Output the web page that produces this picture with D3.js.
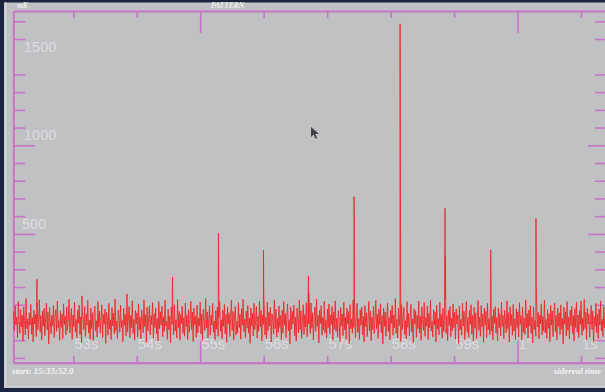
<!DOCTYPE html>
<html><head><meta charset="utf-8">
<script src="https://cdn.jsdelivr.net/npm/d3@7"></script>
<style>html,body{margin:0;padding:0;background:#1d2442;}svg{display:block;}</style>
</head><body>
<svg id="c" width="605" height="392"></svg>
<script>
// ---- data ----
const xTickSeconds = [53,54,55,56,57,58,59,60,61];
const xTickLabels = ["53s","54s","55s","56s","57s","58s","59s","1m","1s"];
const xMajorSeconds = [55,60];
const yLabelValues = [500,1000,1500];
const yMajorValues = [0,500,1000];
const pulseTimes    = [52.428,53.137,53.846,54.564,55.288,55.997,56.706,57.425,58.150,58.858,59.578,60.291,61.000];
const pulsePeaks    = [244,150,161,257,503,409,262,710,1685,644,409,588,120];
const pulseShoulder = [110,90,95,120,240,166,166,240,936,371,258,202,80];
const noiseStart = 52.06, noiseStep = 0.0123;
const noiseValues = [
62,-48,95,-12,30,-88,118,5,-60,74,-25,40,-105,88,12,-70,135,-35,20,-92,
55,-15,102,-66,28,-110,70,-8,45,-80,92,-40,15,128,-55,38,-98,64,-20,80,
-75,25,110,-42,58,-120,85,2,-64,40,-18,96,-85,30,72,-50,120,-30,10,-100,
66,-28,48,-90,105,-12,35,-70,88,-45,20,130,-60,5,78,-95,42,-22,115,-52,
18,-85,70,-5,98,-68,32,-112,60,25,-40,90,-78,48,-15,125,-58,12,-94,82,
-35,55,-102,38,92,-48,10,-82,118,-25,65,-60,22,100,-88,45,-10,75,-118,58,
28,-72,108,-38,15,-96,84,-20,52,-64,132,-45,8,-90,70,35,-55,98,-28,12,
-108,80,-15,46,-75,115,-52,25,90,-86,40,-30,122,-62,18,-100,68,-8,55,-82,
105,-40,30,-92,72,5,-58,128,-22,44,-110,86,-48,20,95,-70,38,-12,112,-88,
50,-28,80,-65,22,-104,118,-35,60,-15,90,-82,32,-50,125,-20,8,-95,74,-42,
35,-115,88,-10,55,-70,100,-48,15,-88,130,-30,62,-100,45,-5,92,-62,28,-78,
110,-25,40,-96,72,-55,18,120,-40,58,-108,82,-12,35,-85,98,-58,25,-20,115,
-65,48,-102,75,12,-45,135,-30,60,-88,22,95,-72,40,-15,108,-55,8,-98,68,
-38,85,-78,30,118,-50,15,-92,70,-22,102,-64,45,-112,88,-8,55,-80,28,125,
-45,62,-100,38,90,-70,5,-58,112,-28,48,-94,78,-15,130,-52,20,-86,64,-32,
96,-60,25,-118,82,-18,52,-76,108,-40,12,90,-88,35,-50,120,-25,68,-104,42,
-12,100,-70,28,-92,115,-45,60,-20,85,-110,48,10,-66,128,-35,75,-82,22,-55,
92,-28,40,-98,70,-60,118,-15,50,-84,32,105,-48,15,-120,88,-38,62,-10,98,
-75,30,-105,82,20,-58,125,-40,65,-90,12,100,-68,45,-25,112,-80,38,-8,78,
-62,110,-32,55,-98,18,86,-50,132,-22,40,-115,70,-5,95,-72,28,-44,120,-58,
15,-88,76,-30,104,-65,42,-12,90,-100,58,-38,122,-50,25,-82,68,5,-106,85,
-20,48,-74,115,-42,30,-94,80,-8,62,-118,100,-35,18,-60,128,-28,52,-86,40,
108,-55,22,-96,72,-15,88,-70,35,-110,96,-25,55,-80,12,118,-48,65,-102,30,
-40,92,-64,20,125,-36,48,-90,75,-12,105,-58,38,-120,82,-22,60,-78,15,110,
-50,28,-98,70,-5,96,-72,42,-30,135,-62,18,-88,80,-18,58,-108,100,-40,25,
85,-68,10,-92,118,-28,50,-75,32,102,-55,20,-115,78,-10,66,-84,40,-35,120,
-58,35,-100,88,15,-45,112,-78,28,-20,94,-96,52,-30,126,-48,8,-82,72,-15,
60,-110,98,-38,22,-70,115,-25,45,-88,80,-52,12,128,-62,38,-102,68,-18,90,
-80,25,-46,105,-30,58,-94,76,-8,42,-118,92,-42,18,-72,110,-20,62,-98,35,
118,-55,28,-84,70,-12,100,-66,40,-105,85,-32,55,-90,15,124,-45,30,-78,96,
-25,48,-112,80,-15,62,-86,108,-40,22,-70,130,-50,35,-98,75,-5,90,-60,28,
-104,82,-30,50,-76,115,-22,40,-92,68,10,-58,122,-35,55,-110,88,-18,45,-72,
102,-48,20,-96,78,-28,60,-82,112,-10,38,-100,85,-55,25,-68,128,-30,50,-88,
70,-20,95,-62,30,-115,88,-40,12,-78,120,-25,58,-92,42,-8,105,-70,35,-48,
125,-58,18,-90,72,-32,48,-108,96,-15,65,-80,28,110,-52,40,-98,82,-22,55,
-68,100,-38,22,-120,86,-10,60,-76,118,-45,30,-94,70,-18,92,-62,38,-105,78,
-28,115,-55,42,-88,66,-12,102,-72,25,-46,130,-35,58,-100,80,-8,48,-84,20,
95,-40,65,-110,32,-22,108,-60,45,-92,76,-15,122,-48,18,-80,90,-30,55,-70
];

// ---- layout ----
const W = 605, H = 392;
const L = 13.3, R = 607, T = 11, B = 362.7;
const svg = d3.select("#c");
const magenta = "#c874c8";

svg.append("rect").attr("x",0).attr("y",0).attr("width",W).attr("height",H).attr("fill","#1d2442");
svg.append("rect").attr("x",4).attr("y",2.5).attr("width",W-4).attr("height",385.5).attr("fill","#c0c1c3");
svg.append("rect").attr("x",4.5).attr("y",2.5).attr("width",2).attr("height",385.5).attr("fill","#d2d3d5");
svg.append("rect").attr("x",4).attr("y",386).attr("width",W-4).attr("height",1.2).attr("fill","#d0d1d3");

const x = d3.scaleLinear().domain([52.055, 61.41]).range([L, R]);
const y = d3.scaleLinear().domain([-227, 1758]).range([B, T]);

// axes
const yMinor = d3.range(-200, 1800, 100).filter(v => !yMajorValues.includes(v) && v !== 1500);
const xMinor = xTickSeconds.filter(s => !xMajorSeconds.includes(s));

function styleAxis(g, w) {
  g.select(".domain").attr("stroke", magenta).attr("stroke-width", w);
  g.selectAll(".tick line").attr("stroke", magenta).attr("stroke-width", 1.6);
  g.selectAll(".tick text").remove();
}
// left
svg.append("g").attr("transform",`translate(${L},0)`)
  .call(d3.axisRight(y).tickValues(yMinor).tickSize(12).tickSizeOuter(0).tickFormat(""))
  .call(g=>styleAxis(g,2));
svg.append("g").attr("transform",`translate(${L},0)`)
  .call(d3.axisRight(y).tickValues(yMajorValues).tickSize(22).tickSizeOuter(0).tickFormat(""))
  .call(g=>{g.select(".domain").remove(); styleAxis(g,0);});
// right
svg.append("g").attr("transform",`translate(${R},0)`)
  .call(d3.axisLeft(y).tickValues(yMinor).tickSize(12).tickSizeOuter(0).tickFormat(""))
  .call(g=>styleAxis(g,2));
svg.append("g").attr("transform",`translate(${R},0)`)
  .call(d3.axisLeft(y).tickValues(yMajorValues).tickSize(19).tickSizeOuter(0).tickFormat(""))
  .call(g=>{g.select(".domain").remove(); styleAxis(g,0);});
// top
svg.append("g").attr("transform",`translate(0,${T})`)
  .call(d3.axisBottom(x).tickValues(xMinor).tickSize(7).tickSizeOuter(0).tickFormat(""))
  .call(g=>styleAxis(g,2.2));
svg.append("g").attr("transform",`translate(0,${T})`)
  .call(d3.axisBottom(x).tickValues(xMajorSeconds).tickSize(22).tickSizeOuter(0).tickFormat(""))
  .call(g=>{g.select(".domain").remove(); styleAxis(g,0);});
// bottom
svg.append("g").attr("transform",`translate(0,${B})`)
  .call(d3.axisTop(x).tickValues(xMinor).tickSize(7).tickSizeOuter(0).tickFormat(""))
  .call(g=>styleAxis(g,2.2));
svg.append("g").attr("transform",`translate(0,${B})`)
  .call(d3.axisTop(x).tickValues(xMajorSeconds).tickSize(22).tickSizeOuter(0).tickFormat(""))
  .call(g=>{g.select(".domain").remove(); styleAxis(g,0);});

// tick labels
const lblColor = "#dcdddf";
svg.append("g").selectAll("text").data(yLabelValues).join("text")
  .attr("x", d => d === 500 ? 22 : 24).attr("y", d => y(d) - 5)
  .attr("font-family","Liberation Sans, sans-serif").attr("font-size",14.5)
  .attr("fill", lblColor).text(d => d);
svg.append("text").attr("x",23).attr("y",y(0)-4)
  .attr("font-family","Liberation Sans, sans-serif").attr("font-size",12)
  .attr("fill", lblColor).text("0");
const xl = svg.append("g").selectAll("text").data(xTickSeconds).join("text")
  .attr("x", d => x(d) + 1).attr("y", 348.5)
  .attr("font-family","Liberation Sans, sans-serif").attr("font-size",15)
  .attr("fill", lblColor);
xl.each(function(d,i){
  const t = d3.select(this), s = xTickLabels[i];
  if (s.endsWith("m")) {
    t.append("tspan").text(s.slice(0,-1));
    t.append("tspan").attr("font-size",8).attr("dy",-6).text("m");
  } else t.text(s);
});

// signal
const pts = noiseValues.map((v,i)=>({t: noiseStart + i*noiseStep, v}));
pulseTimes.forEach((t,i)=>{
  pts.push({t: t, v: pulsePeaks[i]});
  pts.push({t: t + 0.004, v: pulseShoulder[i]});
});
pts.sort((a,b)=>a.t-b.t);
const line = d3.line().x(d=>x(d.t)).y(d=>y(d.v));
svg.append("path").datum(pts).attr("d", line)
  .attr("fill","none").attr("stroke","#f02626").attr("stroke-width",1)
  .attr("stroke-opacity",0.88).attr("stroke-linejoin","miter");

// header / footer text
const serif = "Liberation Serif, DejaVu Serif, serif";
svg.append("text").attr("x",17).attr("y",8).attr("font-family",serif).attr("font-size",7.5)
  .attr("font-style","italic").attr("font-weight","bold").attr("fill","#eeeeee").text("mK");
svg.append("text").attr("x",211).attr("y",8).attr("font-family",serif).attr("font-size",7.5)
  .attr("font-style","italic").attr("font-weight","bold").attr("fill","#eeeeee").text("PATTERN");
svg.append("text").attr("x",12).attr("y",374).attr("font-family",serif).attr("font-size",9)
  .attr("font-style","italic").attr("font-weight","bold").attr("fill","#f4f4f4").text("start: 15:33:52.0");
svg.append("text").attr("x",601).attr("y",374).attr("text-anchor","end").attr("font-family",serif).attr("font-size",9)
  .attr("font-style","italic").attr("font-weight","bold").attr("fill","#f4f4f4").text("sidereal time");

// mouse pointer
svg.append("path").attr("d","M311,127 l0,10 l2.6,-2.4 l2,4.2 l1.6,-0.8 l-2,-4 l3.6,-0.2 z")
  .attr("fill","#2a2a2e").attr("opacity",0.85);
</script>
</body></html>
